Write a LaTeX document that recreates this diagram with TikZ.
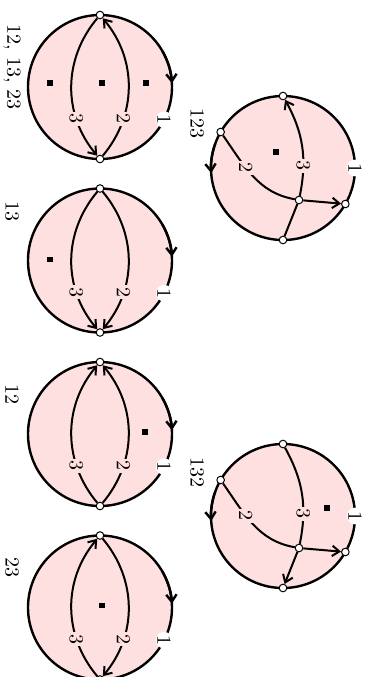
\documentclass[tikz,border=0pt]{standalone}
\usetikzlibrary{positioning,arrows.meta}
\definecolor{diskpink}{RGB}{255,224,224}

\begin{document}
\begin{tikzpicture}[
    x=0.5pt, y=0.5pt, >={Straight Barb[length=3.6pt, width=5.2pt]},
    disk/.style={circle, draw=black, fill=diskpink, line width=1.2pt,
                 minimum size=72pt, inner sep=0pt, outer sep=0pt},
    vtx/.style={circle, draw=black, fill=white, line width=0.5pt,
                minimum size=3.8pt, inner sep=0pt},
    dot/.style={rectangle, fill=black, minimum size=2.8pt, inner sep=0pt},
    strand/.style={line width=1pt},
    lbl/.style={fill=diskpink, inner sep=1pt, rotate=-90},
    one/.style={circle, fill=white, inner sep=0pt, rotate=-90},
    tag/.style={rotate=-90}
]
\useasboundingbox (0,0) rectangle (365,-677);

% left column
\node[disk] (d1) at (100,-87) {};
\node[disk, below=14.75pt of d1] (d2) {};
\node[disk, below=14.75pt of d2] (d3) {};
\node[disk, below=14.75pt of d3] (d4) {};

% right column
\node[disk] (d5) at (283,-168) {};
\node[disk, below=102pt of d5] (d6) {};

\foreach \d in {1,2,3,4} {
  \draw[->, line width=1.2pt] (d\d.30) arc[start angle=30, end angle=3, radius=36pt];
  \node[vtx] (t\d) at (d\d.north) {};
  \node[vtx] (b\d) at (d\d.south) {};
  \node[one] (o\d) at (d\d.-27) {1};
}

\foreach \d in {5,6} {
  \draw[->, line width=1.2pt] (d\d.160) arc[start angle=160, end angle=184, radius=36pt];
  \node[vtx] (u\d) at (d\d.90) {};
  \node[vtx] (l\d) at (d\d.150) {};
  \node[vtx] (b\d) at (d\d.270) {};
  \node[vtx] (r\d) at (d\d.-30) {};
  \node[vtx] (i\d) at ([shift={(16,-32)}]d\d.center) {};
  \node[one] (o\d) at (d\d.0) {1};
  \draw[strand] (l\d) to[out=-55, in=170] node[lbl, pos=0.38] {2} (i\d);
  \draw[strand, ->] (i\d) -- (r\d);
}

% 12, 13, 23
\draw[strand, ->] (b1) to[bend right=40] node[lbl, pos=0.28] {2} (t1);
\draw[strand, ->] (t1) to[bend right=40] node[lbl, pos=0.72] {3} (b1);
\node[dot] (p1) at ([shift={(-50,4)}]d1.center) {};
\node[dot] (p2) at ([shift={(2,4)}]d1.center) {};
\node[dot] (p3) at ([shift={(46,4)}]d1.center) {};

% 13
\draw[strand, ->] (t2) to[bend left=40] node[lbl, pos=0.72] {2} (b2);
\draw[strand, ->] (t2) to[bend right=40] node[lbl, pos=0.72] {3} (b2);
\node[dot] (p4) at ([shift={(-50,1)}]d2.center) {};

% 12
\draw[strand, ->] (b3) to[bend right=40] node[lbl, pos=0.28] {2} (t3);
\draw[strand, ->] (b3) to[bend left=40] node[lbl, pos=0.28] {3} (t3);
\node[dot] (p5) at ([shift={(45,2)}]d3.center) {};

% 23
\draw[strand, ->] (t4) to[bend left=40] node[lbl, pos=0.72] {2} (b4);
\draw[strand, ->] (b4) to[bend left=40] node[lbl, pos=0.28] {3} (t4);
\node[dot] (p6) at ([shift={(2,2)}]d4.center) {};

% 123
\draw[strand, ->] (i5) to[bend right=20] node[lbl, pos=0.29] {3} (u5);
\draw[strand] (i5) -- (b5);
\node[dot] (p7) at ([shift={(-7,16)}]d5.center) {};

% 132
\draw[strand] (u6) to[bend left=20] node[lbl, pos=0.71] {3} (i6);
\draw[strand, ->] (i6) -- (b6);
\node[dot] (p8) at ([shift={(44,8)}]d6.center) {};

\node[tag] (n1) at (12,-67) {12, 13, 23};
\node[tag] (n2) at (12,-211) {13};
\node[tag] (n3) at (12,-394) {12};
\node[tag] (n4) at (12,-567) {23};
\node[tag] (n5) at (197,-123) {123};
\node[tag] (n6) at (197,-472) {132};

\end{tikzpicture}
\end{document}
